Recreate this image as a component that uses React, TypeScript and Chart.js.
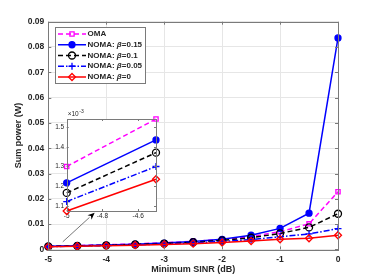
import React, { useEffect, useRef } from 'react';
import { Chart, registerables } from 'chart.js';
Chart.register(...registerables);

// ---- data ----
const sinr = [-5, -4.5, -4, -3.5, -3, -2.5, -2, -1.5, -1, -0.5, 0];
const oma = [0.0013, 0.001541, 0.00183, 0.00218, 0.00262, 0.00318, 0.00395, 0.0051, 0.007, 0.0101, 0.0228];
const noma015 = [0.001217, 0.001435, 0.00171, 0.00205, 0.0025, 0.0031, 0.004, 0.0056, 0.0083, 0.0143, 0.0836];
const noma01 = [0.001166, 0.00137, 0.00162, 0.00193, 0.00232, 0.00283, 0.00355, 0.0046, 0.0063, 0.0087, 0.0141];
const noma005 = [0.001122, 0.0013, 0.00153, 0.00181, 0.00215, 0.00258, 0.00315, 0.0039, 0.005, 0.0061, 0.0082];
const noma0 = [0.001074, 0.001235, 0.00143, 0.00166, 0.00194, 0.00228, 0.00272, 0.0033, 0.004, 0.0044, 0.0056];

const xTicks = [-5, -4, -3, -2, -1, 0];
const yTicks = [0, 0.01, 0.02, 0.03, 0.04, 0.05, 0.06, 0.07, 0.08, 0.09];
const insetXTicks = [-5, -4.8, -4.6];
const insetYTicks = [0.0011, 0.0012, 0.0013, 0.0014, 0.0015];
const insetPoints = 2;
const arrowTail = { x: -4.75, y: 0.003 };
const arrowHead = { x: -4.2, y: 0.0145 };

type S = { label: string; data: number[]; color: string; dash: number[]; style: string; filled: boolean; r: number };
const series: S[] = [
  { label: 'OMA', data: oma, color: '#ff00ff', dash: [5, 3], style: 'rect', filled: false, r: 3 },
  { label: 'NOMA: β=0.15', data: noma015, color: '#0000ff', dash: [], style: 'circle', filled: true, r: 3 },
  { label: 'NOMA: β=0.1', data: noma01, color: '#000000', dash: [5, 3], style: 'circle', filled: false, r: 3.5 },
  { label: 'NOMA: β=0.05', data: noma005, color: '#0000ff', dash: [6, 2, 1.5, 2], style: 'cross', filled: false, r: 3.5 },
  { label: 'NOMA: β=0', data: noma0, color: '#ff0000', dash: [], style: 'rectRot', filled: false, r: 3.5 },
];

const FONT = "'Liberation Sans', Arial, sans-serif";
const TXT = '#262626';
const BOX = '#7a7a7a';

function mkDatasets(n: number) {
  return series.map((s, i) => ({
    label: s.label,
    data: sinr.slice(0, n).map((x, j) => ({ x, y: s.data[j] })),
    borderColor: s.color,
    backgroundColor: s.filled ? s.color : 'rgba(0,0,0,0)',
    borderWidth: 1.5,
    borderDash: s.dash,
    pointStyle: s.style,
    pointRadius: s.r,
    pointBorderWidth: 1.3,
    pointBorderColor: s.color,
    pointBackgroundColor: s.filled ? s.color : 'rgba(0,0,0,0)',
    order: series.length - i,
    clip: false as any,
    tension: 0,
    fill: false,
  }));
}

function drawFrame(chart: any, tickLen: number) {
  const { ctx, chartArea: a, scales } = chart;
  ctx.save();
  ctx.strokeStyle = BOX;
  ctx.lineWidth = 1;
  ctx.strokeRect(Math.round(a.left) + 0.5, Math.round(a.top) + 0.5, Math.round(a.right - a.left), Math.round(a.bottom - a.top));
  ctx.beginPath();
  for (const t of scales.x.ticks) {
    const px = Math.round(scales.x.getPixelForValue(t.value)) + 0.5;
    ctx.moveTo(px, a.bottom); ctx.lineTo(px, a.bottom - tickLen);
    ctx.moveTo(px, a.top); ctx.lineTo(px, a.top + tickLen);
  }
  for (const t of scales.y.ticks) {
    const py = Math.round(scales.y.getPixelForValue(t.value)) + 0.5;
    ctx.moveTo(a.left, py); ctx.lineTo(a.left + tickLen, py);
    ctx.moveTo(a.right, py); ctx.lineTo(a.right - tickLen, py);
  }
  ctx.stroke();
  ctx.restore();
}

function drawMarker(ctx: CanvasRenderingContext2D, s: S, x: number, y: number) {
  ctx.save();
  ctx.setLineDash([]);
  ctx.strokeStyle = s.color;
  ctx.fillStyle = s.color;
  ctx.lineWidth = 1.3;
  const r = s.r;
  ctx.beginPath();
  if (s.style === 'rect') {
    const h = r * Math.SQRT1_2;
    ctx.rect(x - h, y - h, 2 * h, 2 * h);
    ctx.stroke();
  } else if (s.style === 'circle') {
    ctx.arc(x, y, r, 0, Math.PI * 2);
    if (s.filled) ctx.fill();
    ctx.stroke();
  } else if (s.style === 'cross') {
    ctx.moveTo(x - r, y); ctx.lineTo(x + r, y);
    ctx.moveTo(x, y - r); ctx.lineTo(x, y + r);
    ctx.stroke();
  } else {
    ctx.moveTo(x, y - r); ctx.lineTo(x + r, y); ctx.lineTo(x, y + r); ctx.lineTo(x - r, y); ctx.closePath();
    ctx.stroke();
  }
  ctx.restore();
}

const mainPlugin = {
  id: 'mainDeco',
  afterDraw(chart: any) {
    const { ctx, scales } = chart;
    drawFrame(chart, 3);
    // legend
    const lx = 55.5, ly = 27.5, lw = 90, lh = 56;
    ctx.save();
    ctx.fillStyle = '#ffffff';
    ctx.fillRect(lx, ly, lw, lh);
    ctx.strokeStyle = BOX;
    ctx.lineWidth = 1;
    ctx.strokeRect(lx, ly, lw, lh);
    series.forEach((s, i) => {
      const y = 34 + i * 10.75;
      ctx.save();
      ctx.strokeStyle = s.color;
      ctx.lineWidth = 1.5;
      ctx.setLineDash(s.dash);
      ctx.beginPath();
      ctx.moveTo(58, y); ctx.lineTo(86, y);
      ctx.stroke();
      ctx.restore();
      drawMarker(ctx, s, 72, y);
      ctx.fillStyle = TXT;
      ctx.textBaseline = 'middle';
      let tx = 87.5;
      const parts = s.label.split('β');
      parts.forEach((p, k) => {
        ctx.font = `bold 8px ${FONT}`;
        ctx.fillText(p, tx, y);
        tx += ctx.measureText(p).width;
        if (k < parts.length - 1) {
          ctx.font = `italic bold 8px ${FONT}`;
          ctx.fillText('β', tx, y);
          tx += ctx.measureText('β').width;
        }
      });
    });
    // arrow
    const x1 = scales.x.getPixelForValue(arrowTail.x), y1 = scales.y.getPixelForValue(arrowTail.y);
    const x2 = scales.x.getPixelForValue(arrowHead.x), y2 = scales.y.getPixelForValue(arrowHead.y);
    const ang = Math.atan2(y2 - y1, x2 - x1);
    const hl = 7, hw = 3;
    const bx = x2 - hl * Math.cos(ang), by = y2 - hl * Math.sin(ang);
    ctx.strokeStyle = '#555555';
    ctx.lineWidth = 0.8;
    ctx.beginPath();
    ctx.moveTo(x1, y1); ctx.lineTo(bx, by);
    ctx.stroke();
    ctx.fillStyle = '#000000';
    ctx.beginPath();
    ctx.moveTo(x2, y2);
    ctx.lineTo(bx + hw * Math.sin(ang), by - hw * Math.cos(ang));
    ctx.lineTo(bx + 2 * Math.cos(ang), by + 2 * Math.sin(ang));
    ctx.lineTo(bx - hw * Math.sin(ang), by + hw * Math.cos(ang));
    ctx.closePath();
    ctx.fill();
    ctx.restore();
  },
};

const insetPlugin = {
  id: 'insetDeco',
  beforeDraw(chart: any) {
    const { ctx, chartArea: a } = chart;
    ctx.save();
    ctx.fillStyle = '#ffffff';
    ctx.fillRect(a.left, a.top, a.right - a.left, a.bottom - a.top);
    ctx.restore();
  },
  afterDraw(chart: any) {
    const { ctx, chartArea: a } = chart;
    drawFrame(chart, 2);
    ctx.save();
    ctx.fillStyle = TXT;
    ctx.textBaseline = 'alphabetic';
    ctx.font = `6.5px ${FONT}`;
    ctx.fillText('×10', a.left + 1, a.top - 3);
    const w = ctx.measureText('×10').width;
    ctx.font = `5px ${FONT}`;
    ctx.fillText('-3', a.left + 1 + w + 0.5, a.top - 6);
    ctx.restore();
  },
};

export default function App() {
  const mainRef = useRef<HTMLCanvasElement>(null);
  const insetRef = useRef<HTMLCanvasElement>(null);

  useEffect(() => {
    const tickFont = { family: FONT, size: 8.5, weight: 'bold' as const };
    const main = new Chart(mainRef.current!, {
      type: 'line',
      data: { datasets: mkDatasets(sinr.length) as any },
      options: {
        animation: false,
        responsive: false,
        events: [],
        layout: { padding: { top: 21.7, right: 36, left: 0, bottom: 0 } },
        plugins: { legend: { display: false }, tooltip: { enabled: false } },
        scales: {
          x: {
            type: 'linear',
            min: -5,
            max: 0,
            afterBuildTicks: (s: any) => { s.ticks = xTicks.map((v) => ({ value: v })); },
            afterFit: (s: any) => { s.height = 30.6; },
            grid: { color: '#e6e6e6', drawTicks: false },
            border: { display: false },
            ticks: { padding: 5, font: tickFont, color: TXT, maxRotation: 0, callback: (v: any) => String(v) },
            title: { display: true, text: 'Minimum SINR (dB)', color: TXT, font: { family: FONT, size: 9, weight: 'bold' }, padding: { top: 0, bottom: 4.6 } },
          },
          y: {
            type: 'linear',
            min: 0,
            max: 0.09,
            afterBuildTicks: (s: any) => { s.ticks = yTicks.map((v) => ({ value: v })); },
            afterFit: (s: any) => { s.width = 48.3; },
            grid: { color: '#e6e6e6', drawTicks: false },
            border: { display: false },
            ticks: { padding: 4, font: tickFont, color: TXT, callback: (v: any) => (v === 0 ? '0' : Number(v).toFixed(2)) },
            title: { display: true, text: 'Sum power (W)', color: TXT, font: { family: FONT, size: 9, weight: 'bold' }, padding: { top: 13.6, bottom: 0 } },
          },
        },
      },
      plugins: [mainPlugin],
    });

    const firstVals = series.flatMap((s) => s.data.slice(0, insetPoints));
    const inset = new Chart(insetRef.current!, {
      type: 'line',
      data: { datasets: mkDatasets(insetPoints) as any },
      options: {
        animation: false,
        responsive: false,
        events: [],
        layout: { padding: { top: 13, right: 6, left: 0, bottom: 0 } },
        plugins: { legend: { display: false }, tooltip: { enabled: false } },
        scales: {
          x: {
            type: 'linear',
            min: sinr[0],
            max: sinr[insetPoints - 1],
            afterBuildTicks: (s: any) => { s.ticks = insetXTicks.map((v) => ({ value: v })); },
            afterFit: (s: any) => { s.height = 15; },
            grid: { display: false, drawTicks: false },
            border: { display: false },
            ticks: { padding: 1.5, font: { family: FONT, size: 6.5 }, color: TXT, maxRotation: 0, callback: (v: any) => String(Number(Number(v).toFixed(1))) },
          },
          y: {
            type: 'linear',
            min: Math.min(...firstVals),
            max: Math.max(...firstVals),
            afterBuildTicks: (s: any) => { s.ticks = insetYTicks.map((v) => ({ value: v })); },
            afterFit: (s: any) => { s.width = 26.7; },
            grid: { display: false, drawTicks: false },
            border: { display: false },
            ticks: { padding: 2.5, font: { family: FONT, size: 6.5 }, color: TXT, callback: (v: any) => (Number(v) * 1000).toFixed(1) },
          },
        },
      },
      plugins: [insetPlugin],
    });

    return () => { main.destroy(); inset.destroy(); };
  }, []);

  return (
    <div style={{ position: 'fixed', left: 0, top: 0, width: 374, height: 280, background: '#ffffff' }}>
      <canvas ref={mainRef} width={374} height={280} style={{ position: 'absolute', left: 0, top: 0, width: 374, height: 280 }} />
      <canvas ref={insetRef} width={122} height={120} style={{ position: 'absolute', left: 40, top: 106, width: 122, height: 120 }} />
    </div>
  );
}
